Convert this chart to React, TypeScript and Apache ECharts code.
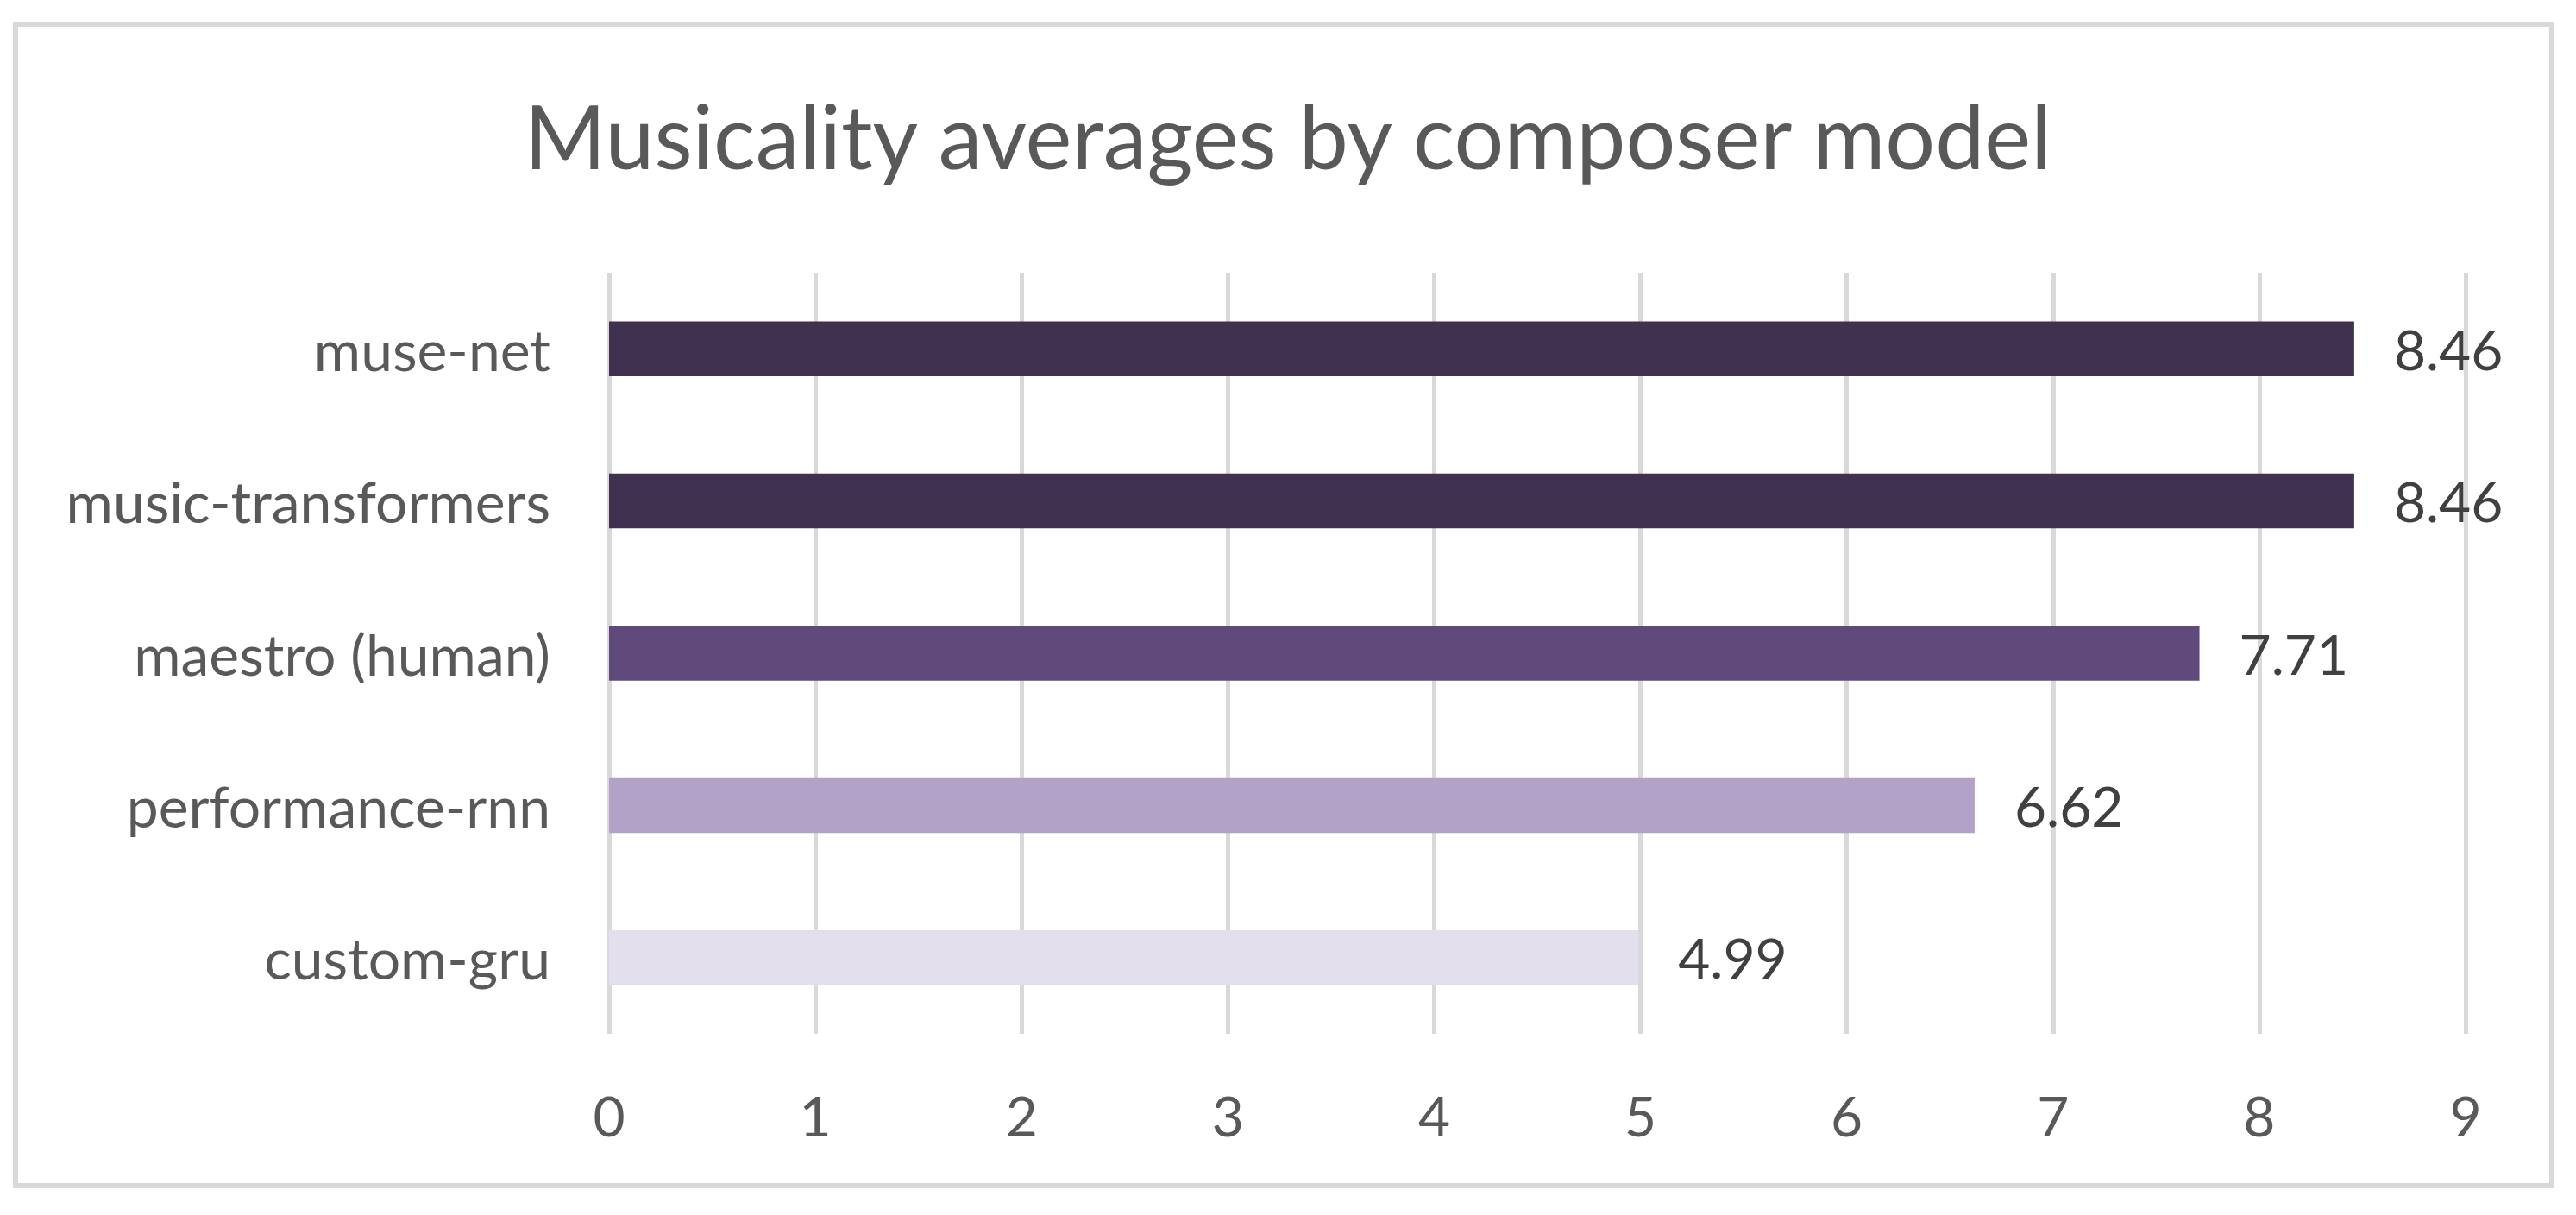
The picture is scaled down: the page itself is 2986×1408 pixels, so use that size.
import React, { useEffect, useRef } from "react";
import * as echarts from "echarts";

const categories = ["custom-gru", "performance-rnn", "maestro (human)", "music-transformers", "muse-net"];
const values = [4.99, 6.62, 7.71, 8.46, 8.46];
const barColors = ["#E4DFEC", "#B3A2C7", "#604A7B", "#403151", "#403151"];
const titleText = "Musicality averages by composer model";

export default function App() {
  const ref = useRef<HTMLDivElement>(null);
  useEffect(() => {
    document.body.style.margin = "0";
    const chart = echarts.init(ref.current!, null, { renderer: "svg" });
    const font = "Lato, 'Open Sans', sans-serif";
    chart.setOption({
      animation: false,
      backgroundColor: "#ffffff",
      title: {
        text: titleText,
        left: "center",
        top: 100,
        textStyle: { fontFamily: font, fontSize: 102, fontWeight: "normal", color: "#595959" },
      },
      graphic: [
        {
          type: "rect",
          shape: { x: 18, y: 28, width: 2940, height: 1346 },
          style: { fill: "none", stroke: "#D9D9D9", lineWidth: 6 },
          silent: true,
        },
      ],
      grid: { left: 706, right: 128, top: 316, bottom: 210 },
      xAxis: {
        type: "value",
        min: 0,
        max: 9,
        interval: 1,
        axisLine: { show: false },
        axisTick: { show: false },
        splitLine: { show: true, lineStyle: { color: "#D9D9D9", width: 5 } },
        axisLabel: { fontFamily: font, fontSize: 64, color: "#595959", margin: 62 },
      },
      yAxis: {
        type: "category",
        data: categories,
        axisLine: { show: false },
        axisTick: { show: false },
        splitLine: { show: false },
        axisLabel: { fontFamily: font, fontSize: 66, color: "#595959", margin: 68 },
      },
      series: [
        {
          type: "bar",
          barWidth: "36%",
          data: values.map((v, i) => ({ value: v, itemStyle: { color: barColors[i] } })),
          label: {
            show: true,
            position: "right",
            distance: 46,
            fontFamily: font,
            fontSize: 64,
            color: "#404040",
            formatter: (p: any) => p.value.toFixed(2),
          },
        },
      ],
    });
    return () => chart.dispose();
  }, []);
  return <div ref={ref} style={{ position: "fixed", left: 0, top: 0, width: 2986, height: 1408 }} />;
}
